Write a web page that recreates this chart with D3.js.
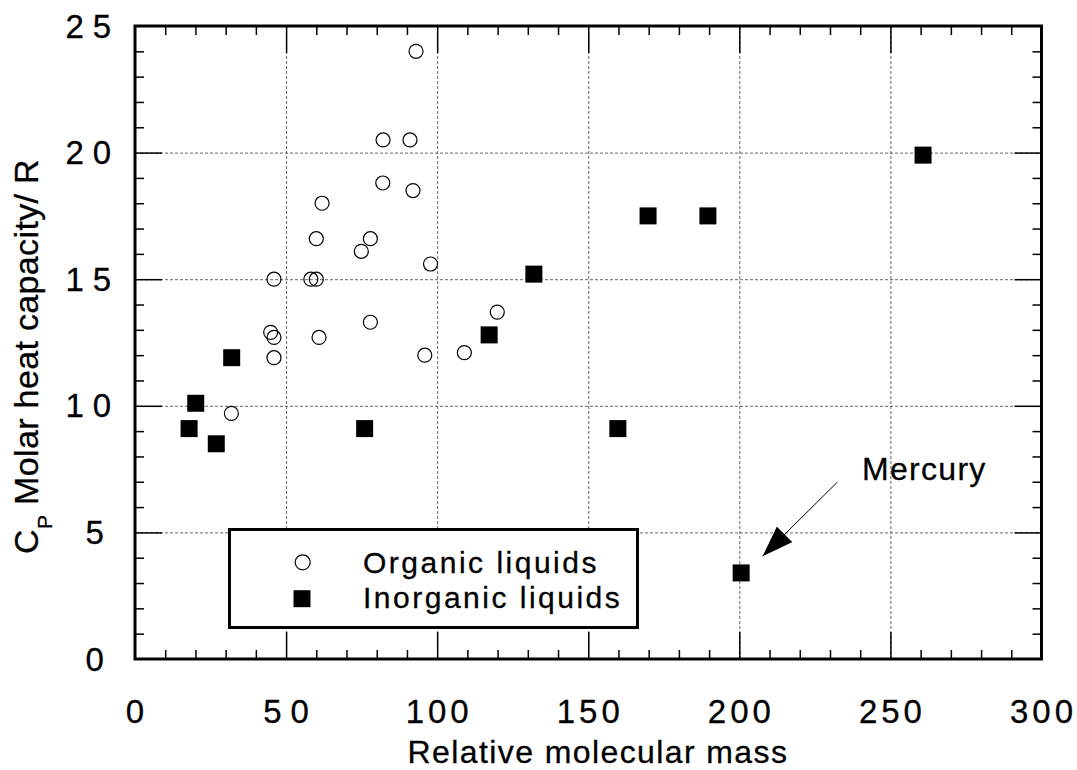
<!DOCTYPE html>
<html>
<head>
<meta charset="utf-8">
<script src="https://cdn.jsdelivr.net/npm/d3@7"></script>
<style>
  body { margin: 0; background: #fff; }
  text { font-family: "Liberation Sans", Arial, sans-serif; fill: #000; stroke: #000; stroke-width: 0.3px; }
</style>
</head>
<body>
<div id="chart"></div>
<script>
// organic liquids (open circles)
var organicMass = [31.9, 44.9, 46.0, 46.0, 46.0, 58.2, 60.0, 60.0, 60.9, 61.9, 74.9,
                   77.9, 77.9, 82.1, 82.0, 91.0, 92.0, 93.0, 95.9, 97.8, 109.0, 119.9];
var organicCp = [9.7, 12.9, 12.7, 11.9, 15.0, 15.0, 15.0, 16.6, 12.7, 18.0, 16.1,
                 16.6, 13.3, 20.5, 18.8, 20.5, 18.5, 24.0, 12.0, 15.6, 12.1, 13.7];

// inorganic liquids (filled squares)
var inorganicMass = [17.9, 20.1, 26.9, 32.0, 76.0, 117.2, 132.0, 159.8, 169.8, 189.6, 200.6, 260.8];
var inorganicCp = [9.1, 10.1, 8.5, 11.9, 9.1, 12.8, 15.2, 9.1, 17.5, 17.5, 3.4, 19.9];

var xTicks = [0, 50, 100, 150, 200, 250, 300];
var yTicks = [0, 5, 10, 15, 20, 25];
var seriesNames = ['Organic liquids', 'Inorganic liquids'];
var noteText = 'Mercury';

var width = 1077,
    height = 770,
    margin = {left: 135, top: 26, right: 35.5, bottom: 111};

var chartWidth = width - margin.left - margin.right;
var chartHeight = height - margin.top - margin.bottom;

var xScale = d3.scaleLinear().domain([0, 300]).range([0, chartWidth]);
var yScale = d3.scaleLinear().domain([0, 25]).range([chartHeight, 0]);

var svg = d3.select('#chart').append('svg')
    .attr('width', width)
    .attr('height', height);

var g = svg.append('g')
    .attr('transform', 'translate(' + margin.left + ',' + margin.top + ')');

var majorX = xTicks.slice(1, -1),
    majorY = yTicks.slice(1, -1),
    minorX = d3.range(10, 300, 10).filter(function(v) { return v % 50; }),
    minorY = d3.range(1, 25, 1).filter(function(v) { return v % 5; });

// dotted grid
g.append('g')
    .attr('class', 'grid x')
    .attr('transform', 'translate(0,' + chartHeight + ')')
    .call(d3.axisBottom(xScale).tickValues(majorX).tickSize(-chartHeight).tickFormat(''));
g.append('g')
    .attr('class', 'grid y')
    .call(d3.axisLeft(yScale).tickValues(majorY).tickSize(-chartWidth).tickFormat(''));
g.selectAll('.grid path').remove();
g.selectAll('.grid line')
    .attr('stroke', '#666')
    .attr('stroke-width', 1)
    .attr('stroke-dasharray', '3,2');

// inside ticks on all four sides
function ticks(axis, tr) {
    var a = g.append('g').attr('class', 'ticks').attr('transform', tr).call(axis);
    a.select('path').remove();
    a.selectAll('text').remove();
    a.selectAll('line').attr('stroke', '#000').attr('stroke-width', 1.5);
}
ticks(d3.axisBottom(xScale).tickValues(minorX).tickSize(-9), 'translate(0,' + chartHeight + ')');
ticks(d3.axisBottom(xScale).tickValues(majorX).tickSize(-27), 'translate(0,' + chartHeight + ')');
ticks(d3.axisTop(xScale).tickValues(minorX).tickSize(-9), 'translate(0,0)');
ticks(d3.axisTop(xScale).tickValues(majorX).tickSize(-27), 'translate(0,0)');
ticks(d3.axisLeft(yScale).tickValues(minorY).tickSize(-9), 'translate(0,0)');
ticks(d3.axisLeft(yScale).tickValues(majorY).tickSize(-27), 'translate(0,0)');
ticks(d3.axisRight(yScale).tickValues(minorY).tickSize(-9), 'translate(' + chartWidth + ',0)');
ticks(d3.axisRight(yScale).tickValues(majorY).tickSize(-27), 'translate(' + chartWidth + ',0)');

// tick labels (the digits are widely spaced in the original)
function spacing(d) { return String(d).length > 2 ? 4 : 9; }

g.append('g').selectAll('text')
    .data(xTicks)
    .enter().append('text')
    .attr('x', function(d) { return xScale(d) + spacing(d) / 2; })
    .attr('y', chartHeight + 64)
    .attr('text-anchor', 'middle')
    .style('font-size', '33px')
    .style('letter-spacing', function(d) { return spacing(d) + 'px'; })
    .text(function(d) { return d; });

g.append('g').selectAll('text')
    .data(yTicks)
    .enter().append('text')
    .attr('x', function(d) { return String(d).length > 1 ? -69.5 : -49.5; })
    .attr('y', function(d) { return yScale(d) + 11.5; })
    .attr('text-anchor', 'start')
    .style('font-size', '33px')
    .style('letter-spacing', function(d) { return spacing(d) + 'px'; })
    .text(function(d) { return d; });

// axis titles
svg.append('text')
    .attr('x', 598)
    .attr('y', 763)
    .attr('text-anchor', 'middle')
    .style('font-size', '32px')
    .style('letter-spacing', '1.4px')
    .text('Relative molecular mass');

var yTitle = svg.append('text')
    .attr('transform', 'translate(38,554) rotate(-90)')
    .style('font-size', '34px')
    .style('letter-spacing', '0.35px');
yTitle.append('tspan').text('C');
yTitle.append('tspan').attr('dy', 14).style('font-size', '21px').text('P');
yTitle.append('tspan').attr('dy', -14).text(' Molar heat capacity/ R');

// frame
g.append('rect')
    .attr('width', chartWidth)
    .attr('height', chartHeight)
    .attr('fill', 'none')
    .attr('stroke', '#000')
    .attr('stroke-width', 3);

// markers
var organic = organicMass.map(function(m, i) { return {x: m, y: organicCp[i]}; });
var inorganic = inorganicMass.map(function(m, i) { return {x: m, y: inorganicCp[i]}; });

g.append('g').selectAll('circle')
    .data(organic)
    .enter().append('circle')
    .attr('cx', function(d) { return xScale(d.x); })
    .attr('cy', function(d) { return yScale(d.y); })
    .attr('r', 7)
    .attr('fill', 'none')
    .attr('stroke', '#000')
    .attr('stroke-width', 1.2);

g.append('g').selectAll('rect')
    .data(inorganic)
    .enter().append('rect')
    .attr('x', function(d) { return xScale(d.x) - 8.5; })
    .attr('y', function(d) { return yScale(d.y) - 8.5; })
    .attr('width', 17)
    .attr('height', 17)
    .attr('fill', '#000');

// Mercury annotation
var ann = {tx: 240.6, ty: 7.07, x1: 232.4, y1: 6.98, x2: 207.7, y2: 4.06};
svg.append('defs').append('marker')
    .attr('id', 'head')
    .attr('viewBox', '0 0 31 22')
    .attr('refX', 31)
    .attr('refY', 11)
    .attr('markerWidth', 31)
    .attr('markerHeight', 22)
    .attr('markerUnits', 'userSpaceOnUse')
    .attr('orient', 'auto')
    .append('path')
    .attr('d', 'M0,0L31,11L0,22Z')
    .attr('fill', '#000');

g.append('line')
    .attr('x1', xScale(ann.x1))
    .attr('y1', yScale(ann.y1))
    .attr('x2', xScale(ann.x2))
    .attr('y2', yScale(ann.y2))
    .attr('stroke', '#000')
    .attr('stroke-width', 1)
    .attr('marker-end', 'url(#head)');

g.append('text')
    .attr('x', xScale(ann.tx))
    .attr('y', yScale(ann.ty))
    .style('font-size', '32px')
    .style('letter-spacing', '1.3px')
    .text(noteText);

// legend
var legend = svg.append('g');
legend.append('rect')
    .attr('x', 229.5)
    .attr('y', 529.5)
    .attr('width', 408)
    .attr('height', 98)
    .attr('fill', '#fff')
    .attr('stroke', '#000')
    .attr('stroke-width', 3);
legend.append('circle')
    .attr('cx', 302.7)
    .attr('cy', 562.3)
    .attr('r', 7.5)
    .attr('fill', 'none')
    .attr('stroke', '#000')
    .attr('stroke-width', 1.2);
legend.append('rect')
    .attr('x', 302 - 8.5)
    .attr('y', 598.7 - 8.5)
    .attr('width', 17)
    .attr('height', 17)
    .attr('fill', '#000');
legend.selectAll('text.lab')
    .data(seriesNames)
    .enter().append('text')
    .attr('class', 'lab')
    .attr('x', 363)
    .attr('y', function(d, i) { return 573 + i * 35; })
    .style('font-size', '30px')
    .style('letter-spacing', '2.5px')
    .text(function(d) { return d; });
</script>
</body>
</html>
